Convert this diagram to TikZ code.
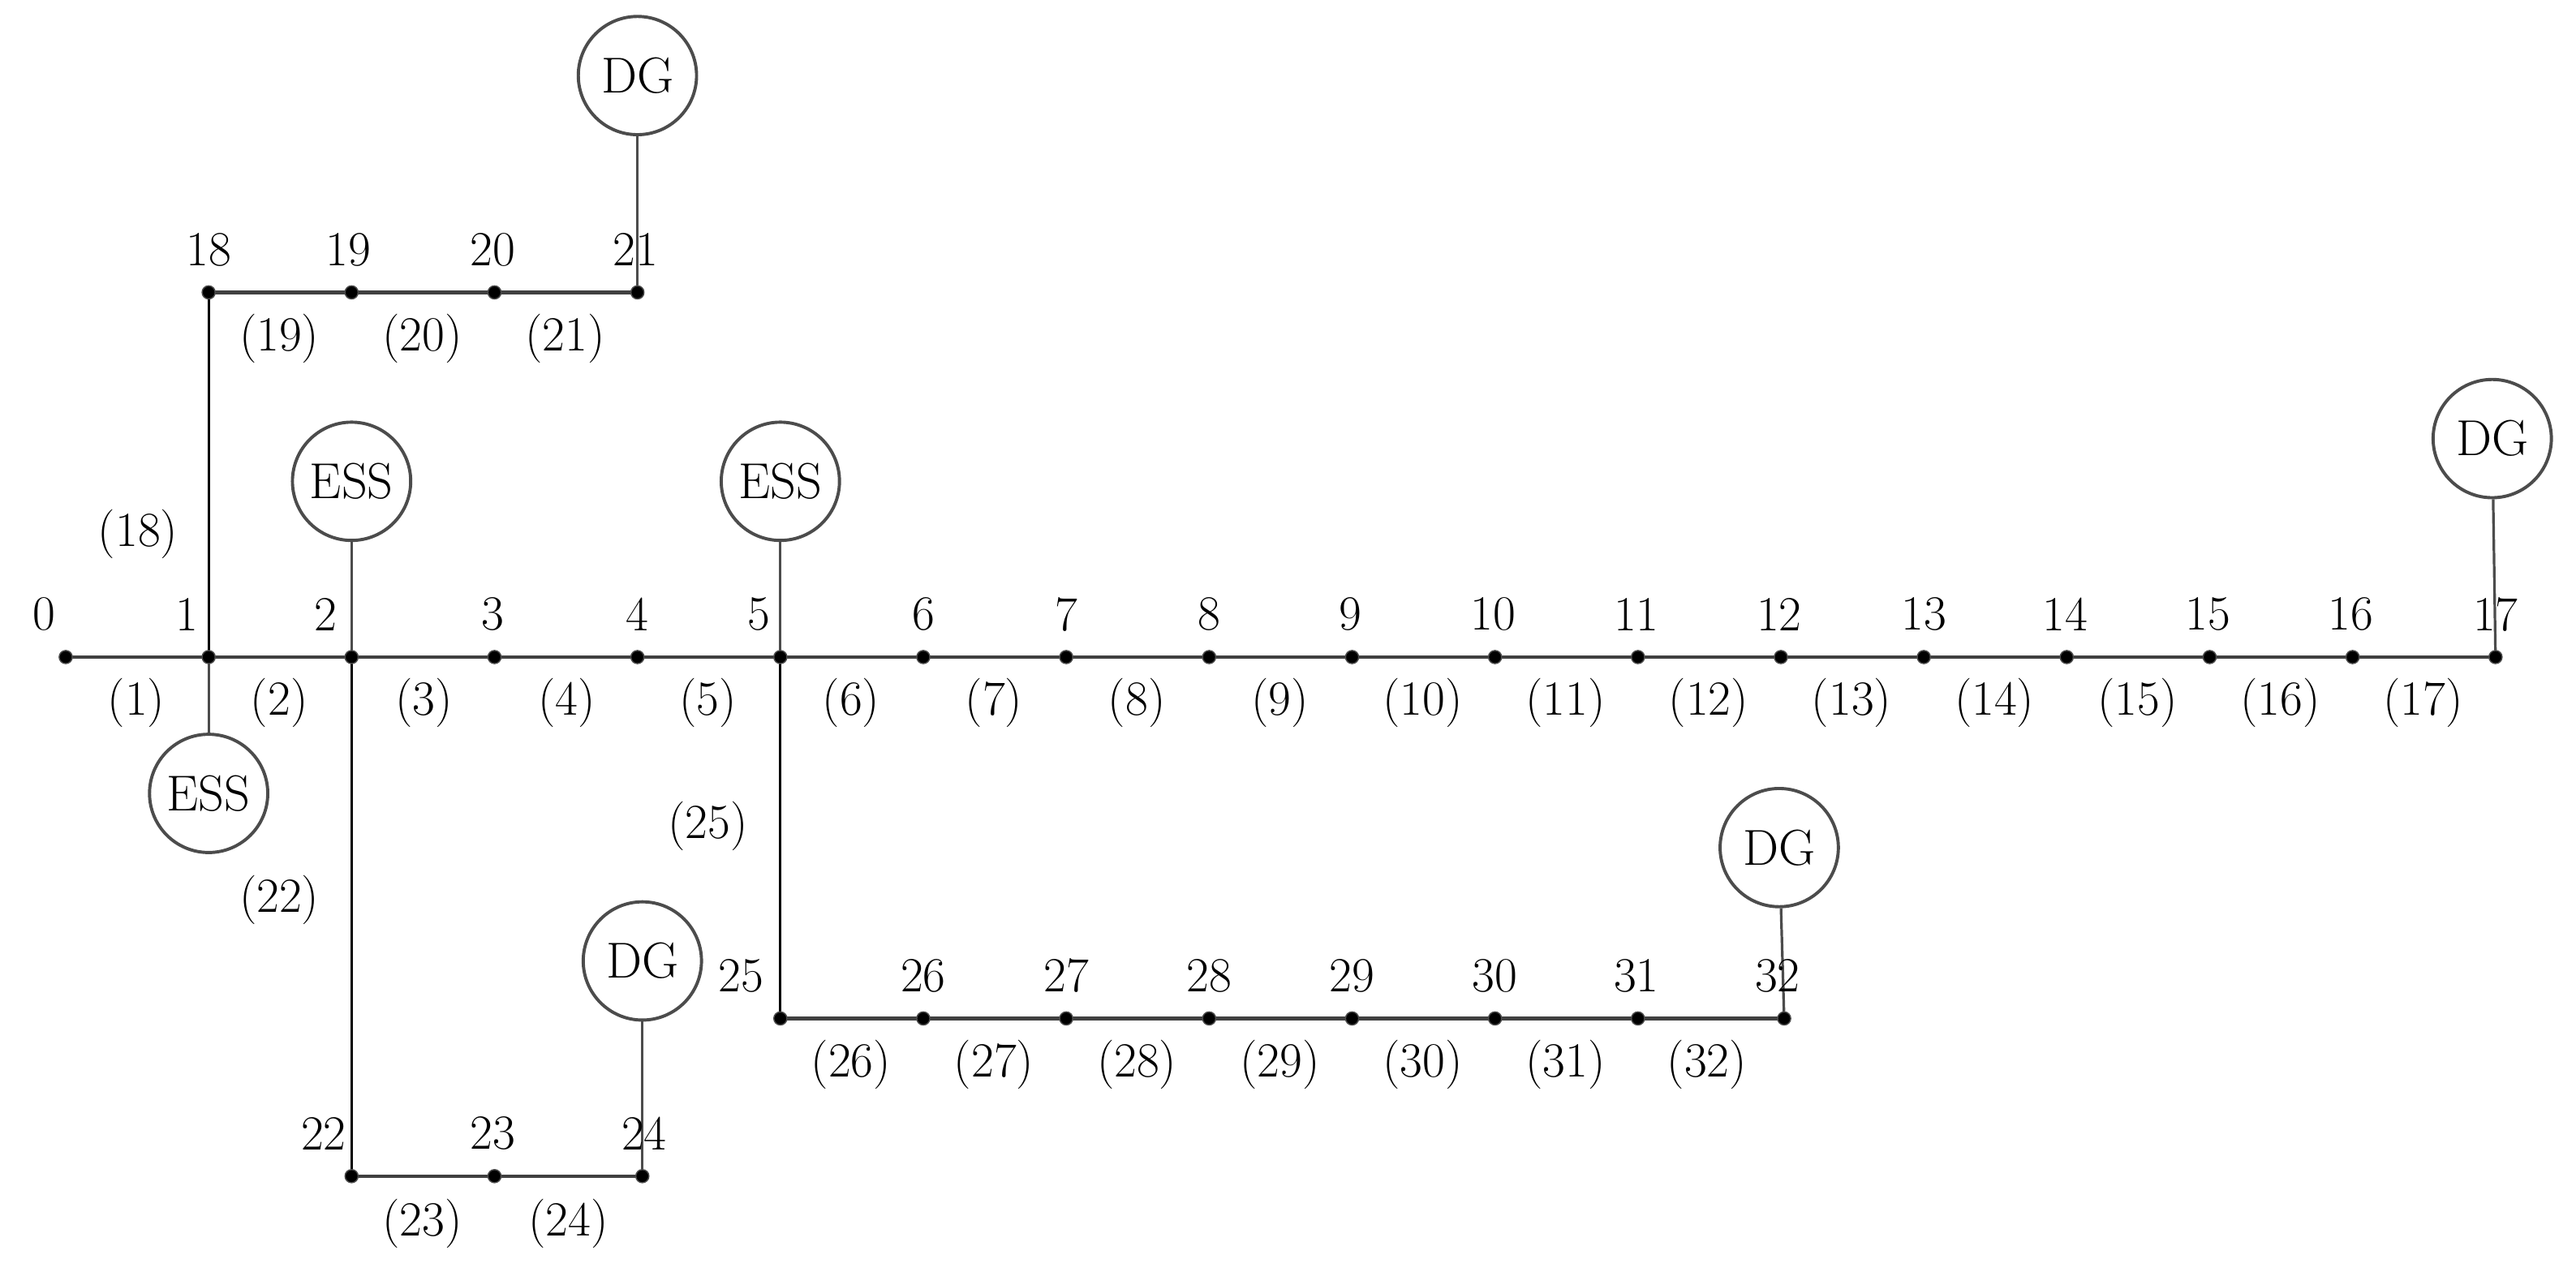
\documentclass[tikz,border=0pt]{standalone}
\begin{document}
\begin{tikzpicture}[x=0.02cm,y=-0.02cm,
  bus/.style={circle,fill=black,draw=black!70,inner sep=0pt,minimum size=0.16cm},
  hline/.style={draw=black!75,line width=1.2pt},
  vline/.style={draw=black,line width=0.9pt},
  tie/.style={draw=black!70,line width=0.9pt},
  dev/.style={circle,draw=black!70,line width=1.1pt,minimum size=1.44cm,inner sep=0pt,font=\fontsize{17.5}{20}\selectfont},
  lab/.style={inner sep=0pt,font=\fontsize{17}{20}\selectfont}]
\useasboundingbox (0,0) rectangle (1568,774);
% bus positions
\foreach \i/\x in {0/40,1/127,2/214,3/301,4/388,5/475,6/562,7/649,8/736,9/823,10/910,11/997,12/1084,13/1171,14/1258,15/1345,16/1432,17/1519}
  \coordinate (b\i) at (\x,400);
\foreach \i/\x in {18/127,19/214,20/301,21/388}
  \coordinate (b\i) at (\x,178);
\foreach \i/\x in {22/214,23/301,24/391}
  \coordinate (b\i) at (\x,716);
\foreach \i/\x in {25/475,26/562,27/649,28/736,29/823,30/910,31/997,32/1086}
  \coordinate (b\i) at (\x,620);
% devices
\node[dev] (dg21) at (388,46) {DG};
\node[dev] (ess2) at (214,293) {ESS};
\node[dev] (ess5) at (475,293) {ESS};
\node[dev] (ess1) at (127,483) {ESS};
\node[dev] (dg24) at (391,585) {DG};
\node[dev] (dg32) at (1083,516) {DG};
\node[dev] (dg17) at (1517,267) {DG};
% lines
\foreach \a/\b in {0/1,1/2,2/3,3/4,4/5,5/6,6/7,7/8,8/9,9/10,10/11,11/12,12/13,13/14,14/15,15/16,16/17,18/19,19/20,20/21,22/23,23/24,25/26,26/27,27/28,28/29,29/30,30/31,31/32}
  \draw[hline] (b\a) -- (b\b);
\draw[vline] (b1) -- (b18);
\draw[vline] (b2) -- (b22);
\draw[vline] (b5) -- (b25);
\draw[tie] (dg21) -- (b21);
\draw[tie] (ess2) -- (b2);
\draw[tie] (ess5) -- (b5);
\draw[tie] (ess1) -- (b1);
\draw[tie] (dg24) -- (b24);
\draw[tie] (dg32) -- (b32);
\draw[tie] (dg17) -- (b17);
% bus dots
\foreach \i in {0,...,32} \node[bus] (d\i) at (b\i) {};
% bus numbers
\foreach \i/\x in {0/27,1/114,2/198,3/300,4/388,5/462,6/562,7/649,8/736,9/822,10/909,11/996,12/1083,13/1171,14/1257,15/1344,16/1431,17/1519}
  \node[lab] (n\i) at (\x,374) {\i};
\foreach \i/\x in {18/127,19/212,20/300,21/387}
  \node[lab] (n\i) at (\x,152) {\i};
\foreach \i/\x in {22/197,23/300,24/392}
  \node[lab] (n\i) at (\x,690) {\i};
\foreach \i/\x in {25/451,26/562,27/649,28/736,29/823,30/910,31/996,32/1082}
  \node[lab] (n\i) at (\x,594) {\i};
% branch numbers
\foreach \i/\x in {1/83,2/170,3/258,4/345,5/431,6/518,7/605,8/692,9/779,10/866,11/953,12/1040,13/1127,14/1214,15/1301,16/1388,17/1475}
  \node[lab] (l\i) at (\x,428) {(\i)};
\node[lab] (l18) at (84,325) {(18)};
\foreach \i/\x in {19/170,20/257,21/344}
  \node[lab] (l\i) at (\x,206) {(\i)};
\node[lab] (l22) at (170,548) {(22)};
\foreach \i/\x in {23/257,24/346}
  \node[lab] (l\i) at (\x,745) {(\i)};
\node[lab] (l25) at (431,503) {(25)};
\foreach \i/\x in {26/518,27/605,28/692,29/779,30/866,31/953,32/1039}
  \node[lab] (l\i) at (\x,648) {(\i)};
\end{tikzpicture}
\end{document}
